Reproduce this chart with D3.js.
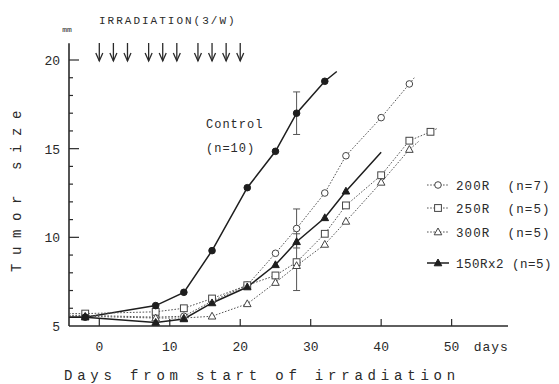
<!DOCTYPE html>
<html>
<head>
<meta charset="utf-8">
<script src="https://cdn.jsdelivr.net/npm/d3@7"></script>
<style>
  body { margin: 0; background: #fff; }
  svg text { font-family: "Liberation Mono", "DejaVu Sans Mono", monospace; fill: #2a2a2a; }
</style>
</head>
<body>
<div id="chart"></div>
<script>
// days of measurement
var days = [-2, 8, 12, 16, 21, 25, 28, 32, 35, 40, 44, 47];

// tumor size (mm) per group
var control = [5.5, 6.15, 6.9, 9.25, 12.8, 14.85, 17.0, 18.8];
var r200 = [5.6, 5.5, 5.55, 6.4, 7.3, 9.1, 10.5, 12.5, 14.6, 16.75, 18.65];
var r250 = [5.7, 5.8, 6.0, 6.55, 7.3, 7.85, 8.6, 10.2, 11.8, 13.5, 15.45, 15.95];
var r300 = [5.55, 5.45, 5.45, 5.55, 6.25, 7.45, 8.4, 9.6, 10.9, 13.1, 14.95];
var r150x2 = [5.5, 5.2, 5.4, 6.3, 7.2, 8.45, 9.75, 11.1, 12.6];

// line continues past the last marker: [day, mm]
var tails = {
  control: [33.7, 19.35],
  r200: [44.7, 19.0],
  r250: [47.9, 16.13],
  r300: [45.3, 15.4],
  r150x2: [40, 14.8]
};

// error bars at day 28: [group, low, high]
var errBars = [['control', 15.8, 18.2], ['r200', 9.4, 11.6], ['r250', 7.0, 10.2]];

// irradiation days (3 per week)
var irrDays = [0, 2, 4, 7, 9, 11, 14, 16, 18, 20];

var xTicks = [0, 10, 20, 30, 40, 50];
var yMajor = [5, 10, 15, 20];

var width = 559, height = 384;

var svg = d3.select('#chart').append('svg')
  .attr('width', width)
  .attr('height', height);

var x = d3.scaleLinear().domain([-4.3, 58]).range([69, 508]);
var y = d3.scaleLinear().domain([5, 20]).range([326, 60]);

var ink = '#2a2a2a';

// axes
svg.append('line')
  .attr('x1', x(-4.3)).attr('x2', x(-4.3))
  .attr('y1', y(20.95)).attr('y2', y(5))
  .attr('stroke', ink).attr('stroke-width', 1.6);
svg.append('line')
  .attr('x1', x(-4.3)).attr('x2', x(58))
  .attr('y1', y(5)).attr('y2', y(5))
  .attr('stroke', ink).attr('stroke-width', 1.6);

// y ticks, every mm, long ones at 10/15/20
svg.selectAll('.ytick')
  .data(d3.range(6, 21))
  .enter().append('line')
  .attr('class', 'ytick')
  .attr('x1', x(-4.3))
  .attr('x2', function(d){ return x(-4.3) + (d % 5 == 0 ? 10 : 4); })
  .attr('y1', function(d){ return y(d); })
  .attr('y2', function(d){ return y(d); })
  .attr('stroke', ink).attr('stroke-width', 1.2);

svg.selectAll('.ylab')
  .data(yMajor)
  .enter().append('text')
  .attr('class', 'ylab')
  .attr('x', 60)
  .attr('y', function(d){ return y(d) + 5; })
  .attr('text-anchor', 'end')
  .style('font-size', '13px')
  .text(function(d){ return d; });

svg.append('text')
  .attr('x', 67).attr('y', 32)
  .attr('text-anchor', 'middle')
  .style('font-size', '8px')
  .text('mm');

// x ticks
svg.selectAll('.xtick')
  .data(xTicks)
  .enter().append('line')
  .attr('class', 'xtick')
  .attr('x1', function(d){ return x(d); })
  .attr('x2', function(d){ return x(d); })
  .attr('y1', y(5)).attr('y2', y(5) - 7)
  .attr('stroke', ink).attr('stroke-width', 1.2);

svg.selectAll('.xlab')
  .data(xTicks)
  .enter().append('text')
  .attr('class', 'xlab')
  .attr('x', function(d){ return x(d); })
  .attr('y', 351)
  .attr('text-anchor', 'middle')
  .style('font-size', '13px')
  .text(function(d){ return d; });

svg.append('text')
  .attr('x', x(50) + 22).attr('y', 351)
  .style('font-size', '13px')
  .style('letter-spacing', '1px')
  .text('days');

// axis titles
svg.append('text')
  .attr('x', 262).attr('y', 380)
  .attr('text-anchor', 'middle')
  .style('font-size', '14px')
  .style('letter-spacing', '4.8px')
  .text('Days from start of irradiation');

svg.append('text')
  .attr('transform', 'translate(21,187) rotate(-90)')
  .attr('text-anchor', 'middle')
  .style('font-size', '14px')
  .style('letter-spacing', '8.6px')
  .text('Tumor size');

// irradiation arrows
svg.append('text')
  .attr('x', 99).attr('y', 24)
  .style('font-size', '11px')
  .style('letter-spacing', '2px')
  .text('IRRADIATION(3/W)');

var arrows = svg.selectAll('.arrow')
  .data(irrDays)
  .enter().append('g')
  .attr('class', 'arrow')
  .attr('transform', function(d){ return 'translate(' + x(d) + ',0)'; });
arrows.append('line')
  .attr('x1', 0).attr('x2', 0).attr('y1', 43).attr('y2', 61)
  .attr('stroke', ink).attr('stroke-width', 1.3);
arrows.append('path')
  .attr('d', 'M-3.5,53 L0,61 L3.5,53')
  .attr('fill', 'none').attr('stroke', ink).attr('stroke-width', 1.3);

// series
var series = [
  {key: 'control', vals: control, marker: 'circle', filled: true, solid: true},
  {key: 'r200', vals: r200, marker: 'circle', filled: false, solid: false},
  {key: 'r250', vals: r250, marker: 'square', filled: false, solid: false},
  {key: 'r300', vals: r300, marker: 'triangle', filled: false, solid: false},
  {key: 'r150x2', vals: r150x2, marker: 'triangle', filled: true, solid: true}
];

var line = d3.line()
  .x(function(d){ return x(d[0]); })
  .y(function(d){ return y(d[1]); });

function points(s){
  return s.vals.map(function(v, i){ return [days[i], v]; });
}

function styleLine(sel, s){
  sel.attr('fill', 'none')
    .attr('stroke', s.solid ? '#1e1e1e' : '#555')
    .attr('stroke-width', s.solid ? 1.5 : 1)
    .attr('stroke-dasharray', s.solid ? null : '1.6,1.6');
}

function drawMarker(g, s, cx, cy){
  var fill = s.filled ? '#1e1e1e' : '#fff';
  var stroke = s.filled ? '#1e1e1e' : '#444';
  if (s.marker == 'circle') {
    g.append('circle').attr('cx', cx).attr('cy', cy).attr('r', 3.3)
      .attr('fill', fill).attr('stroke', stroke).attr('stroke-width', 1);
  } else if (s.marker == 'square') {
    g.append('rect').attr('x', cx - 3.4).attr('y', cy - 3.4).attr('width', 6.8).attr('height', 6.8)
      .attr('fill', fill).attr('stroke', stroke).attr('stroke-width', 1);
  } else {
    g.append('path')
      .attr('d', 'M' + cx + ',' + (cy - 4) + ' L' + (cx + 3.8) + ',' + (cy + 2.8) + ' L' + (cx - 3.8) + ',' + (cy + 2.8) + ' Z')
      .attr('fill', fill).attr('stroke', stroke).attr('stroke-width', 1);
  }
}

// lines (start at the y axis at the first value, run a bit past the last point)
series.forEach(function(s){
  var pts = points(s);
  var full = [[x.domain()[0], pts[0][1]]].concat(pts, [tails[s.key]]);
  svg.append('path').datum(full).attr('d', line).call(styleLine, s);
});

// error bars
errBars.forEach(function(e){
  var cx = x(28);
  svg.append('line').attr('x1', cx).attr('x2', cx)
    .attr('y1', y(e[1])).attr('y2', y(e[2]))
    .attr('stroke', '#555').attr('stroke-width', 1);
  [e[1], e[2]].forEach(function(v){
    svg.append('line').attr('x1', cx - 3.5).attr('x2', cx + 3.5)
      .attr('y1', y(v)).attr('y2', y(v))
      .attr('stroke', '#555').attr('stroke-width', 1);
  });
});

// markers, drawn with open ones first so filled ones stay visible
[1, 2, 3, 0, 4].forEach(function(i){
  var s = series[i];
  var g = svg.append('g');
  points(s).forEach(function(p){ drawMarker(g, s, x(p[0]), y(p[1])); });
});

// control label
svg.append('text').attr('x', 206).attr('y', 128)
  .style('font-size', '12px').style('letter-spacing', '1px').text('Control');
svg.append('text').attr('x', 206).attr('y', 152)
  .style('font-size', '12px').style('letter-spacing', '1px').text('(n=10)');

// legend
var legend = [
  {s: series[1], label: '200R  (n=7)', y: 185, sp: 1.1},
  {s: series[2], label: '250R  (n=5)', y: 208, sp: 1.1},
  {s: series[3], label: '300R  (n=5)', y: 232, sp: 1.1},
  {s: series[4], label: '150Rx2 (n=5)', y: 263, sp: 0.5}
];
legend.forEach(function(l){
  var g = svg.append('g');
  g.append('line').attr('x1', 427).attr('x2', 449).attr('y1', l.y).attr('y2', l.y)
    .call(styleLine, l.s);
  drawMarker(g, l.s, 438, l.y);
  g.append('text').attr('x', 456).attr('y', l.y + 4.5)
    .style('font-size', '12.5px')
    .style('letter-spacing', l.sp + 'px')
    .attr('xml:space', 'preserve')
    .text(l.label);
});
</script>
</body>
</html>
